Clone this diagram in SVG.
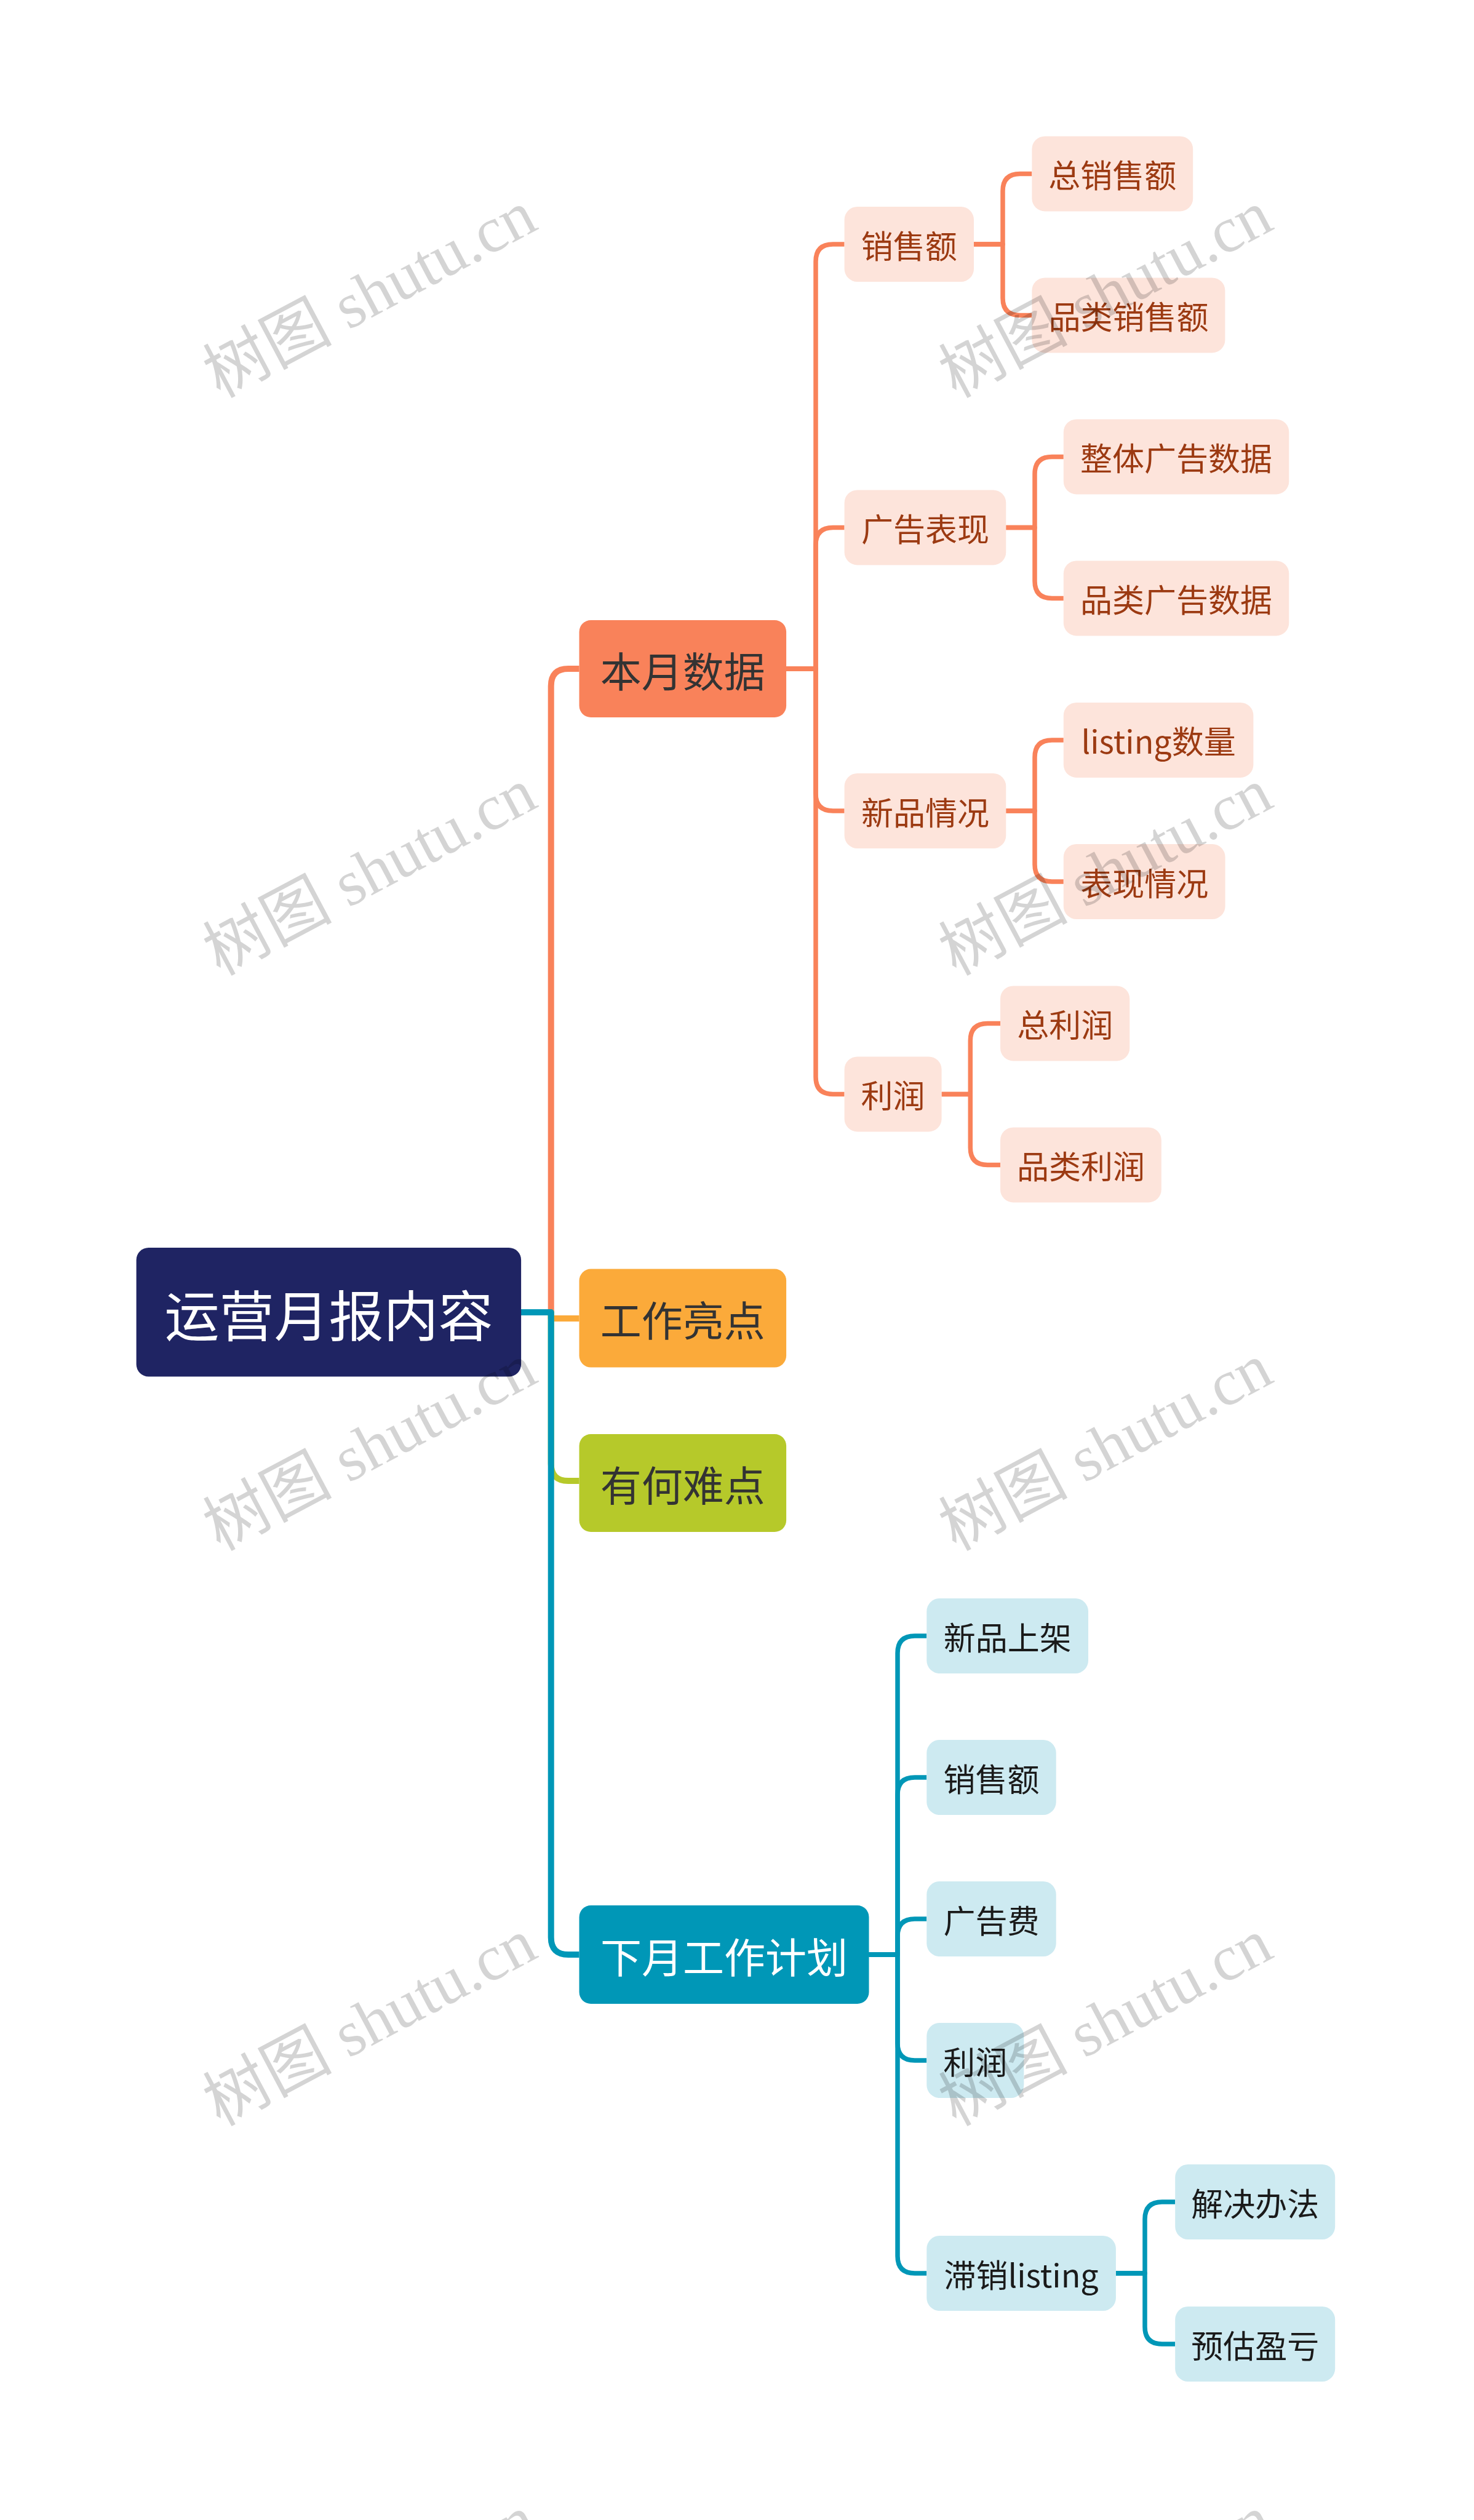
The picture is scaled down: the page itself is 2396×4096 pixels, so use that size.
<svg xmlns="http://www.w3.org/2000/svg" width="2396" height="4096" viewBox="0 0 2396 4096">
<style>
.t{font-family:"Noto Sans CJK SC","Noto Sans",sans-serif;text-anchor:middle;dominant-baseline:central}
.root rect{fill:#1F2463}
.root text{fill:#fff;font-size:89px}
.l1 text{font-size:67px;fill:#333}
.o2 rect{fill:#FDE4DB}
.o2 text{font-size:52px;fill:#9C3A12}
.b2 rect{fill:#CDEAF1}
.b2 text{font-size:52px;fill:#1a1a1a}
.c{fill:none;stroke-linejoin:round}
.c1{stroke-width:10}
.c2{stroke-width:7.5}
.or{stroke:#F9825A}
.ye{stroke:#FBAA3A}
.gr{stroke:#B6C92A}
.te{stroke:#0097B7}
.wm{font-family:"Liberation Serif","Noto Sans CJK SC",serif;font-size:105px;fill:#000;fill-opacity:0.17;text-anchor:middle;dominant-baseline:central}
</style>
<rect width="2396" height="4096" fill="#fff"/>
<g id="connectors">
<path class="c c1 or" d="M847 2133 H895.7 V1115 Q895.7 1087 923.7 1087 H941.5"/>
<path class="c c1 ye" d="M847 2133 H895.7 V2143 H941.5"/>
<path class="c c1 gr" d="M847 2133 H895.7 V2379 Q895.7 2407 923.7 2407 H941.5"/>
<path class="c c1 te" d="M847 2133 H895.7 V3149 Q895.7 3177 923.7 3177 H941.5"/>
<path class="c c2 or" d="M1278 1087 H1326 V425 Q1326 397 1354 397 H1372.6"/>
<path class="c c2 or" d="M1278 1087 H1326 V885.4 Q1326 857.4 1354 857.4 H1372.6"/>
<path class="c c2 or" d="M1278 1087 H1326 V1290 Q1326 1318 1354 1318 H1372.6"/>
<path class="c c2 or" d="M1278 1087 H1326 V1750.4 Q1326 1778.4 1354 1778.4 H1372.6"/>
<path class="c c2 or" d="M1583 397 H1630 V310.4 Q1630 282.4 1658 282.4 H1677.4"/>
<path class="c c2 or" d="M1583 397 H1630 V484.4 Q1630 512.4 1658 512.4 H1677.4"/>
<path class="c c2 or" d="M1635.3 857.4 H1682 V770.4 Q1682 742.4 1710 742.4 H1728.8"/>
<path class="c c2 or" d="M1635.3 857.4 H1682 V944.4 Q1682 972.4 1710 972.4 H1728.8"/>
<path class="c c2 or" d="M1635.3 1318 H1682 V1230.9 Q1682 1202.9 1710 1202.9 H1728.8"/>
<path class="c c2 or" d="M1635.3 1318 H1682 V1405 Q1682 1433 1710 1433 H1728.8"/>
<path class="c c2 or" d="M1530.6 1778.4 H1577.3 V1691.4 Q1577.3 1663.4 1605.3 1663.4 H1626"/>
<path class="c c2 or" d="M1530.6 1778.4 H1577.3 V1865.4 Q1577.3 1893.4 1605.3 1893.4 H1626"/>
<path class="c c2 te" d="M1412.5 3177 H1459 V2687 Q1459 2659 1487 2659 H1506.3"/>
<path class="c c2 te" d="M1412.5 3177 H1459 V2917 Q1459 2889 1487 2889 H1506.3"/>
<path class="c c2 te" d="M1412.5 3177 H1459 V3147 Q1459 3119 1487 3119 H1506.3"/>
<path class="c c2 te" d="M1412.5 3177 H1459 V3321 Q1459 3349 1487 3349 H1506.3"/>
<path class="c c2 te" d="M1412.5 3177 H1459 V3667 Q1459 3695 1487 3695 H1506.3"/>
<path class="c c2 te" d="M1813.9 3695 H1861 V3607 Q1861 3579 1889 3579 H1910.2"/>
<path class="c c2 te" d="M1813.9 3695 H1861 V3782 Q1861 3810 1889 3810 H1910.2"/>
</g>
<g id="root" class="root"><rect x="221.6" y="2028" width="625.5" height="209.5" rx="20"/><text class="t" x="534.4" y="2133">运营月报内容</text></g>
<g id="n-benyue" class="l1"><rect x="941.5" y="1008" width="336.6" height="158" rx="19" fill="#F9825A"/><text class="t" x="1109.8" y="1087">本月数据</text></g>
<g id="n-liangdian" class="l1"><rect x="941.5" y="2062.6" width="336.6" height="160" rx="19" fill="#FBAA3A"/><text class="t" x="1109.8" y="2142.6">工作亮点</text></g>
<g id="n-nandian" class="l1"><rect x="941.5" y="2331" width="336.6" height="159" rx="19" fill="#B6C92A"/><text class="t" x="1109.8" y="2410.5">有何难点</text></g>
<g id="n-xiayue" class="l1"><rect x="941.5" y="3097" width="471" height="160" rx="19" fill="#0097B7"/><text class="t" x="1177" y="3177" fill="#fff" style="fill:#fff">下月工作计划</text></g>
<g id="o-xiaoshou" class="o2"><rect x="1372.6" y="336" width="210.4" height="122" rx="21"/><text class="t" x="1477.8" y="397">销售额</text></g>
<g id="o-guanggao" class="o2"><rect x="1372.6" y="796.4" width="262.7" height="122" rx="21"/><text class="t" x="1504" y="857.4">广告表现</text></g>
<g id="o-xinpin" class="o2"><rect x="1372.6" y="1257" width="262.7" height="122" rx="21"/><text class="t" x="1504" y="1318">新品情况</text></g>
<g id="o-lirun" class="o2"><rect x="1372.6" y="1717.4" width="158" height="122" rx="21"/><text class="t" x="1451.6" y="1778.4">利润</text></g>
<g id="o-zongxiaoshou" class="o2"><rect x="1677.4" y="221.4" width="261.8" height="122" rx="21"/><text class="t" x="1808.3" y="282.4">总销售额</text></g>
<g id="o-pinleixiaoshou" class="o2"><rect x="1677.4" y="451.4" width="314" height="122" rx="21"/><text class="t" x="1834.4" y="512.4">品类销售额</text></g>
<g id="o-zhengti" class="o2"><rect x="1728.8" y="681.4" width="366.5" height="122" rx="21"/><text class="t" x="1912" y="742.4">整体广告数据</text></g>
<g id="o-pinleiguanggao" class="o2"><rect x="1728.8" y="911.4" width="366.5" height="122" rx="21"/><text class="t" x="1912" y="972.4">品类广告数据</text></g>
<g id="o-listing" class="o2"><rect x="1728.8" y="1141.9" width="308.6" height="122" rx="21"/><text class="t" x="1883.1" y="1202.9">listing数量</text></g>
<g id="o-biaoxian" class="o2"><rect x="1728.8" y="1372" width="262.8" height="122" rx="21"/><text class="t" x="1860.2" y="1433">表现情况</text></g>
<g id="o-zonglirun" class="o2"><rect x="1626" y="1602.4" width="210.3" height="122" rx="21"/><text class="t" x="1731.2" y="1663.4">总利润</text></g>
<g id="o-pinleilirun" class="o2"><rect x="1626" y="1832.4" width="261.8" height="122" rx="21"/><text class="t" x="1756.9" y="1893.4">品类利润</text></g>
<g id="b-xinpin" class="b2"><rect x="1506.3" y="2598" width="262.7" height="122" rx="21"/><text class="t" x="1637.7" y="2659">新品上架</text></g>
<g id="b-xiaoshou" class="b2"><rect x="1506.3" y="2828" width="210.4" height="122" rx="21"/><text class="t" x="1611.5" y="2889">销售额</text></g>
<g id="b-guanggao" class="b2"><rect x="1506.3" y="3058" width="210.4" height="122" rx="21"/><text class="t" x="1611.5" y="3119">广告费</text></g>
<g id="b-lirun" class="b2"><rect x="1506.3" y="3288" width="158" height="122" rx="21"/><text class="t" x="1585.3" y="3349">利润</text></g>
<g id="b-zhixiao" class="b2"><rect x="1506.3" y="3634" width="307.6" height="122" rx="21"/><text class="t" x="1660.1" y="3695">滞销listing</text></g>
<g id="b-jiejue" class="b2"><rect x="1910.2" y="3518" width="260" height="122" rx="21"/><text class="t" x="2040.2" y="3579">解决办法</text></g>
<g id="b-yugu" class="b2"><rect x="1910.2" y="3749" width="260" height="122" rx="21"/><text class="t" x="2040.2" y="3810">预估盈亏</text></g>
<g id="watermarks">
<text class="wm" x="601" y="478" transform="rotate(-28 601 478)">树图 shutu.cn</text>
<text class="wm" x="1797" y="478" transform="rotate(-28 1797 478)">树图 shutu.cn</text>
<text class="wm" x="601" y="1417" transform="rotate(-28 601 1417)">树图 shutu.cn</text>
<text class="wm" x="1797" y="1417" transform="rotate(-28 1797 1417)">树图 shutu.cn</text>
<text class="wm" x="601" y="2352" transform="rotate(-28 601 2352)">树图 shutu.cn</text>
<text class="wm" x="1797" y="2352" transform="rotate(-28 1797 2352)">树图 shutu.cn</text>
<text class="wm" x="601" y="3287" transform="rotate(-28 601 3287)">树图 shutu.cn</text>
<text class="wm" x="1797" y="3287" transform="rotate(-28 1797 3287)">树图 shutu.cn</text>
<text class="wm" x="601" y="4224" transform="rotate(-28 601 4224)">树图 shutu.cn</text>
<text class="wm" x="1797" y="4224" transform="rotate(-28 1797 4224)">树图 shutu.cn</text>
</g>
</svg>
